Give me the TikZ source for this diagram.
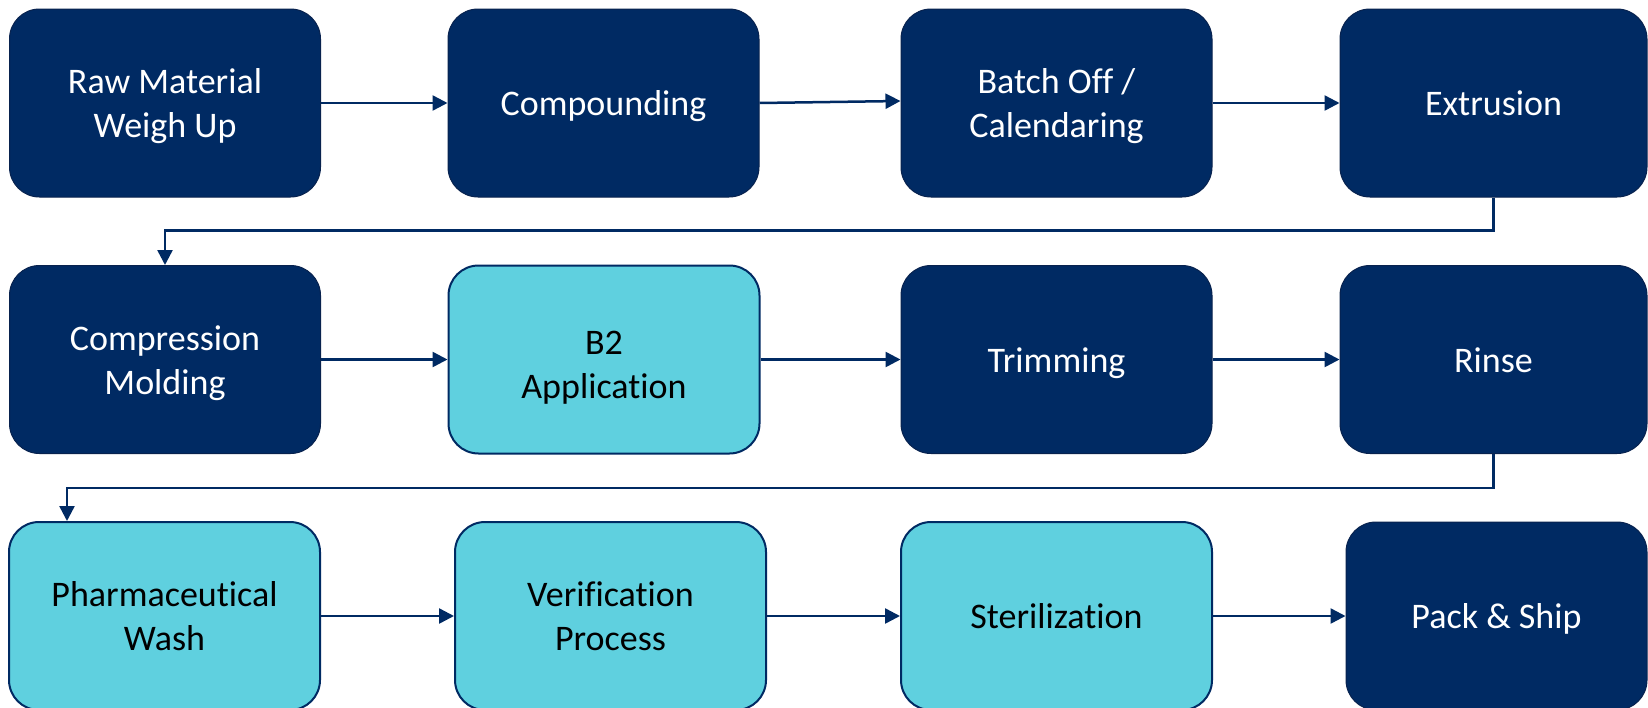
\documentclass[tikz,border=0pt]{standalone}
\usepackage{fontspec}
\setmainfont{Carlito}[RawFeature={-liga}]
\usetikzlibrary{arrows.meta}
\definecolor{navy}{RGB}{0,42,99}
\definecolor{navyedge}{RGB}{8,34,78}
\definecolor{aqua}{RGB}{95,208,223}
% fixed line height and depth, so every label sits at the same level
\newcommand\lineset{\rule[-8pt]{0pt}{41pt}}
\tikzset{
  stage/.style={rectangle, rounded corners=30pt, minimum width=311pt,
    minimum height=188pt, inner sep=0pt, align=center,
    font=\fontsize{36}{44}\selectfont},
  darkstage/.style={stage, fill=navy, draw=navyedge, line width=1pt, text=white},
  lightstage/.style={stage, fill=aqua, draw=navy, line width=2pt, text=black},
  flow/.style={draw=navy, line width=2.5pt, -{Triangle[length=15pt,width=15pt]}},
}
\begin{document}
\begin{tikzpicture}[x=1pt, y=-1pt]
\useasboundingbox (0,0) rectangle (1648,707);
\fill[white] (0,0) rectangle (1648,707);

% row 1
\node[darkstage] (raw) at (165,103) {\lineset Raw Material\\\lineset Weigh Up};
\node[darkstage] (comp) at (603.5,103) {\lineset Compounding};
\node[darkstage] (batch) at (1056.5,103) {\lineset Batch Off /\\\lineset Calendaring};
\node[darkstage, minimum width=307pt] (extr) at (1493.5,103) {\lineset Extrusion};

% row 2
\node[darkstage] (mold) at (165,359.5) {\lineset Compression\\\lineset Molding};
\node[lightstage] (b2) at (604,359.5) {\rule{0pt}{41pt}\lineset B2\\\lineset Application};
\node[darkstage] (trim) at (1056.5,359.5) {\lineset Trimming};
\node[darkstage, minimum width=307pt] (rinse) at (1493.5,359.5) {\lineset Rinse};

% row 3
\node[lightstage] (pharm) at (164.5,616) {\lineset Pharmaceutical\\\lineset Wash};
\node[lightstage] (verif) at (610.5,616) {\lineset Verification\\\lineset Process};
\node[lightstage] (steril) at (1056.5,616) {\lineset Sterilization};
\node[darkstage, minimum width=301pt] (pack) at (1496.5,616) {\lineset Pack \& Ship};

% connectors
\draw[flow] (raw.east) -- (comp.west);
\draw[flow] (comp.east) -- ([yshift=2pt]batch.west);
\draw[flow] (batch.east) -- (extr.west);
\draw[flow] (extr.south) -- ++(0,33) -| (mold.north);
\draw[flow] (mold.east) -- (b2.west);
\draw[flow] (b2.east) -- (trim.west);
\draw[flow] (trim.east) -- (rinse.west);
\draw[flow] (rinse.south) -- ++(0,34) -| ([xshift=59pt]pharm.north west);
\draw[flow] (pharm.east) -- (verif.west);
\draw[flow] (verif.east) -- (steril.west);
\draw[flow] (steril.east) -- (pack.west);
\end{tikzpicture}
\end{document}
